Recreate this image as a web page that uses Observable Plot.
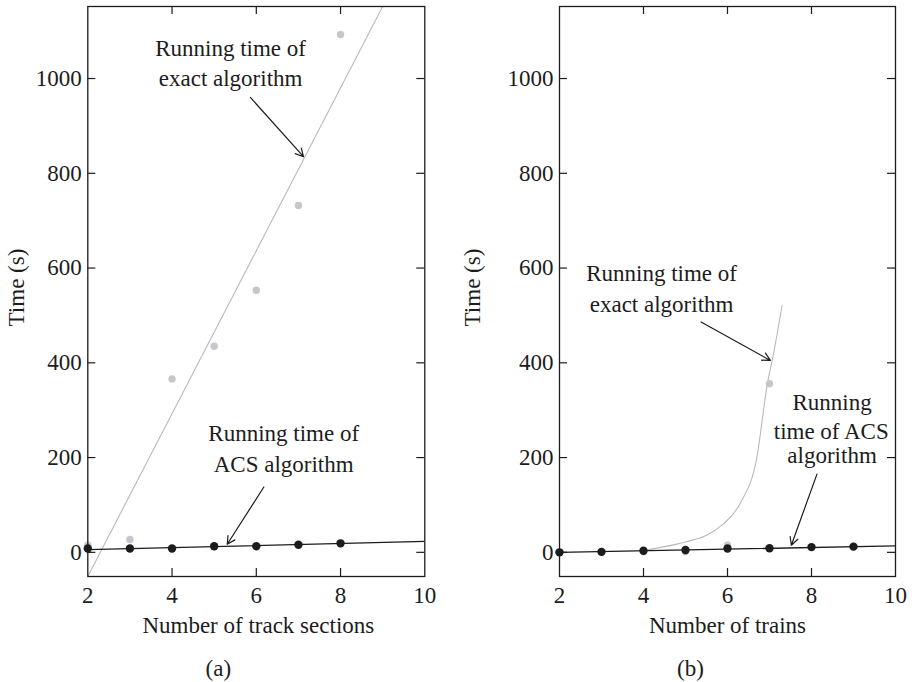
<!DOCTYPE html>
<html><head><meta charset="utf-8">
<script src="https://cdn.jsdelivr.net/npm/d3@7"></script>
<script src="https://cdn.jsdelivr.net/npm/@observablehq/plot@0.6"></script>
<style>
body{margin:0;background:#fff}
#wrap{display:flex;width:912px;height:682px;overflow:hidden}
</style>
</head><body><div id="wrap"></div>
<script>
// shared tick values
const yTicks = [0, 200, 400, 600, 800, 1000];
const xTickLabels = [2, 4, 6, 8, 10];
const innerXTicks = [4, 6, 8];
const yDomain = [-51, 1152];
const xDomain = [2, 10];

// Panel (a): number of track sections
const sectionsX = [2, 3, 4, 5, 6, 7, 8];
const exactA = [15, 27, 366, 435, 553, 732, 1093];
const acsA = [8, 8, 8, 13, 13, 16, 19];
const exactFitAX = [2, 9];
const exactFitAY = [-51, 1152];
const acsFitAX = [2, 10];
const acsFitAY = [5.6, 23];
const labelAX = [5.39, 5.39, 6.65, 6.65];
const labelAY = [1063, 999, 250, 186];
const labelAText = ["Running time of", "exact algorithm", "Running time of", "ACS algorithm"];
const arrowA = {x1: [5.86, 6.18], y1: [960, 138], x2: [7.12, 5.31], y2: [835, 17]};

// Panel (b): number of trains
const trainsX = [2, 3, 4, 5, 6, 7, 8, 9];
const acsB = [0, 1, 3.5, 5, 8, 8.5, 11, 12];
const exactBX = [2, 3, 4, 5, 6, 7];
const exactB = [0, 0.5, 1, 1, 15, 356];
const exactCurveBX = [4, 4.5, 5, 5.5, 5.9, 6.3, 6.7, 6.95, 7.08, 7.3];
const exactCurveBY = [4, 12, 22, 36, 60, 103, 201, 356, 412, 521];
const acsFitBX = [2, 10];
const acsFitBY = [0, 13.5];
const labelBX = [4.43, 4.43, 8.49, 8.47, 8.49];
const labelBY = [589, 523, 317, 254, 204];
const labelBText = ["Running time of", "exact algorithm", "Running", "time of ACS", "algorithm"];
const arrowB = {x1: [5.37, 8.13], y1: [486, 165], x2: [7.02, 7.52], y2: [405, 15]};

const zip = (xs, ys) => xs.map((x, i) => ({x, y: ys[i]}));
const GRAY_PT = "#c4c7cd", GRAY_LN = "#b5b9c1", INK = "#1c1c1c";
const FONT = "'Liberation Serif', 'DejaVu Serif', serif";

function panel({mL, mR, xLabel, tag, tagDx, xLabelDx, ptsGray, ptsBlack, grayLine, grayCurve, blackLine, labels, arrows}) {
  const W = 456, H = 682, mT = 6, mB = 106;
  const fw = W - mL - mR, fh = H - mT - mB;
  return Plot.plot({
    width: W, height: H,
    marginLeft: mL, marginRight: mR, marginTop: mT, marginBottom: mB,
    x: {domain: xDomain, label: null},
    y: {domain: yDomain, label: null},
    style: {fontFamily: FONT, fontSize: "23px", color: INK, background: "#fff", overflow: "visible"},
    marks: [
      Plot.line(grayLine, {x: "x", y: "y", stroke: GRAY_LN, strokeWidth: 1.1, clip: true}),
      Plot.line(grayCurve, {x: "x", y: "y", stroke: GRAY_LN, strokeWidth: 1.1, curve: "monotone-x", clip: true}),
      Plot.dot(ptsGray, {x: "x", y: "y", r: 3.7, fill: GRAY_PT, stroke: "none"}),
      Plot.line(blackLine, {x: "x", y: "y", stroke: INK, strokeWidth: 1.3, clip: true}),
      Plot.dot(ptsBlack, {x: "x", y: "y", r: 4.2, fill: INK, stroke: "none"}),
      Plot.tickY(yTicks, {y: d => d, insetRight: fw - 8, stroke: INK, strokeWidth: 1.2}),
      Plot.tickY(yTicks, {y: d => d, insetLeft: fw - 8, stroke: INK, strokeWidth: 1.2}),
      Plot.tickX(innerXTicks, {x: d => d, insetTop: fh - 8, stroke: INK, strokeWidth: 1.2}),
      Plot.tickX(innerXTicks, {x: d => d, insetBottom: fh - 8, stroke: INK, strokeWidth: 1.2}),
      Plot.frame({stroke: INK, strokeWidth: 1.3}),
      Plot.axisX(xTickLabels, {anchor: "bottom", tickSize: 0, tickPadding: 10, fontSize: 23, fill: INK, label: null, tickFormat: d => String(d)}),
      Plot.axisY(yTicks, {anchor: "left", tickSize: 0, tickPadding: 6, fontSize: 23, fill: INK, label: null, tickFormat: d => String(d)}),
      Plot.text(labels, {x: "x", y: "y", text: "t", fontSize: 23, fill: INK, textAnchor: "middle", lineAnchor: "middle"}),
      Plot.arrow(arrows, {x1: "x1", y1: "y1", x2: "x2", y2: "y2", stroke: INK, strokeWidth: 1.2, headLength: 11, headAngle: 55}),
      Plot.text(["Time (s)"], {text: d => d, frameAnchor: "left", rotate: -90, dx: -(mL - 16), dy: -4, fontSize: 23, fill: INK, textAnchor: "middle", lineAnchor: "middle"}),
      Plot.text([xLabel], {text: d => d, frameAnchor: "bottom", dy: 49, dx: xLabelDx, fontSize: 23, fill: INK, textAnchor: "middle", lineAnchor: "middle"}),
      Plot.text([tag], {text: d => d, frameAnchor: "bottom", dy: 92, dx: tagDx, fontSize: 23, fill: INK, textAnchor: "middle", lineAnchor: "middle"})
    ]
  });
}

const mk = (xs, ys, ts) => xs.map((x, i) => ({x, y: ys[i], t: ts[i]}));
const mkArrows = a => a.x1.map((v, i) => ({x1: v, y1: a.y1[i], x2: a.x2[i], y2: a.y2[i]}));

const wrap = document.getElementById("wrap");
wrap.append(panel({
  mL: 87.3, mR: 31.7, xLabel: "Number of track sections", tag: "(a)", tagDx: -38, xLabelDx: 2,
  ptsGray: zip(sectionsX, exactA), ptsBlack: zip(sectionsX, acsA),
  grayLine: zip(exactFitAX, exactFitAY), grayCurve: [], blackLine: zip(acsFitAX, acsFitAY),
  labels: mk(labelAX, labelAY, labelAText), arrows: mkArrows(arrowA)
}));
wrap.append(panel({
  mL: 103, mR: 17, xLabel: "Number of trains", tag: "(b)", tagDx: -37, xLabelDx: 0,
  ptsGray: zip(exactBX, exactB), ptsBlack: zip(trainsX, acsB),
  grayLine: [], grayCurve: zip(exactCurveBX, exactCurveBY), blackLine: zip(acsFitBX, acsFitBY),
  labels: mk(labelBX, labelBY, labelBText), arrows: mkArrows(arrowB)
}));
</script>
</body></html>
